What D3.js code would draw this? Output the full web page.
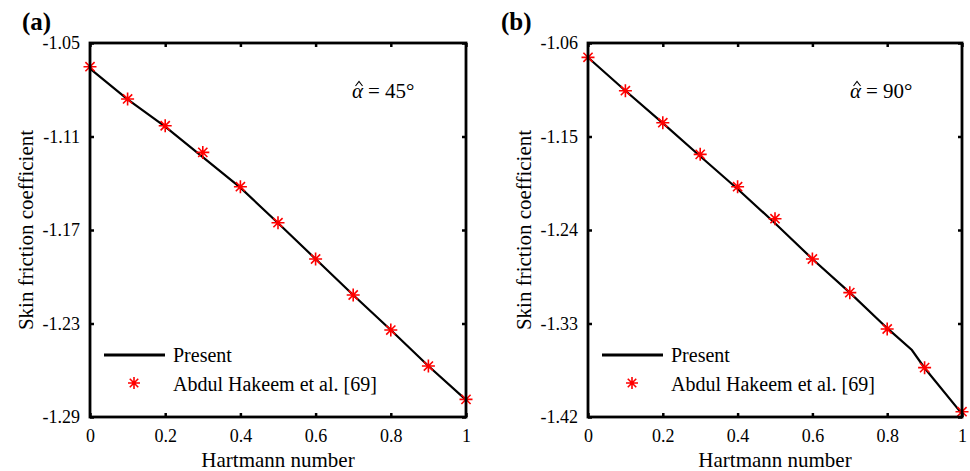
<!DOCTYPE html>
<html>
<head>
<meta charset="utf-8">
<script src="https://cdn.jsdelivr.net/npm/d3@7"></script>
<style>
  html, body { margin: 0; padding: 0; background: #fff; }
  svg text { font-family: "Liberation Serif", "DejaVu Serif", serif; }
</style>
</head>
<body>
<svg id="chart" width="970" height="471"></svg>
<script>
// Hartmann number grid shared by both panels
const hartmann = [0, 0.1, 0.2, 0.3, 0.4, 0.5, 0.6, 0.7, 0.8, 0.9, 1.0];
const xTicks = [0, 0.2, 0.4, 0.6, 0.8, 1];
const xTickLabels = ["0", "0.2", "0.4", "0.6", "0.8", "1"];

// Panel (a): alpha = 45 deg
const presentXA = [0, 0.1, 0.2, 0.3, 0.4, 0.5, 0.6, 0.7, 0.8, 0.9, 1.0];
const presentA = [-1.0665, -1.0862, -1.1036, -1.1232, -1.1428, -1.1655, -1.1886, -1.2117, -1.2342, -1.2573, -1.2790];
const hakeemA = [-1.0652, -1.0859, -1.1031, -1.1202, -1.1422, -1.1653, -1.1886, -1.2117, -1.2342, -1.2573, -1.2787];
const yTicksA = [-1.05, -1.11, -1.17, -1.23, -1.29];
const yTickLabelsA = ["-1.05", "-1.11", "-1.17", "-1.23", "-1.29"];

// Panel (b): alpha = 90 deg
const presentXB = [0, 0.1, 0.2, 0.3, 0.4, 0.5, 0.6, 0.7, 0.8, 0.866, 0.9, 1.0];
const presentB = [-1.0740, -1.1060, -1.1372, -1.1690, -1.2005, -1.2335, -1.2679, -1.3003, -1.3345, -1.3555, -1.3728, -1.4170];
const hakeemB = [-1.0738, -1.1059, -1.1367, -1.1672, -1.1983, -1.2291, -1.2679, -1.3003, -1.3353, -1.3725, -1.4149];
const yTicksB = [-1.06, -1.15, -1.24, -1.33, -1.42];
const yTickLabelsB = ["-1.06", "-1.15", "-1.24", "-1.33", "-1.42"];

const FONT = "'Liberation Serif', 'DejaVu Serif', serif";
const svg = d3.select("#chart").attr("font-family", FONT);

// Asterisk marker (plus + cross)
function asterisk(g, cx, cy, r) {
  const d = r * Math.SQRT1_2;
  const p = `M${cx - r},${cy}L${cx + r},${cy}M${cx},${cy - r}L${cx},${cy + r}` +
            `M${cx - d},${cy - d}L${cx + d},${cy + d}M${cx - d},${cy + d}L${cx + d},${cy - d}`;
  g.append("path").attr("d", p).attr("stroke", "#ff0000").attr("stroke-width", 1.6).attr("fill", "none");
}

function label(g, x, y, size, str) {
  return g.append("text").attr("x", x).attr("y", y).attr("font-size", size)
    .attr("font-family", FONT).attr("fill", "#000").text(str);
}

function panel(opt) {
  const x = d3.scaleLinear().domain([0, 1]).range([opt.left, opt.right]);
  const y = d3.scaleLinear().domain([opt.yTicks[opt.yTicks.length - 1], opt.yTicks[0]]).range([opt.bottom, opt.top]);
  const g = svg.append("g");

  // Panel tag
  label(g, opt.tagX, 30, 25, opt.tag).attr("font-weight", "bold");

  // Curve of the present results
  const line = d3.line().x((d, i) => x(opt.px[i])).y(d => y(d));
  g.append("path").datum(opt.present).attr("d", line)
    .attr("fill", "none").attr("stroke", "#000").attr("stroke-width", 2.2);

  // Reference values as asterisks
  opt.hakeem.forEach((v, i) => asterisk(g, x(hartmann[i]), y(v), 6.5));

  // Axes with inward ticks on every side
  const tl = 4;
  const axB = d3.axisBottom(x).tickValues(xTicks).tickSize(-tl).tickPadding(12).tickFormat((d, i) => xTickLabels[i]);
  const axT = d3.axisTop(x).tickValues(xTicks).tickSize(-tl).tickFormat("");
  const axL = d3.axisLeft(y).tickValues(opt.yTicks).tickSize(-tl).tickPadding(10).tickFormat((d, i) => opt.yLabels[i]);
  const axR = d3.axisRight(y).tickValues(opt.yTicks).tickSize(-tl).tickFormat("");
  const axes = [
    [axB, `translate(0,${opt.bottom})`],
    [axT, `translate(0,${opt.top})`],
    [axL, `translate(${opt.left},0)`],
    [axR, `translate(${opt.right},0)`]
  ];
  axes.forEach(([ax, tr]) => {
    const a = g.append("g").attr("transform", tr).call(ax).attr("font-family", FONT).attr("font-size", 18);
    a.select(".domain").remove();
    a.selectAll(".tick line").attr("stroke", "#000").attr("stroke-width", 2.5);
    a.selectAll(".tick text").attr("font-size", 18).attr("fill", "#000").attr("font-family", FONT);
  });

  // Frame
  g.append("rect").attr("x", opt.left).attr("y", opt.top)
    .attr("width", opt.right - opt.left).attr("height", opt.bottom - opt.top)
    .attr("fill", "none").attr("stroke", "#000").attr("stroke-width", 2.8);

  // Axis titles
  label(g, (opt.left + opt.right) / 2, 467, 21, "Hartmann number").attr("text-anchor", "middle");
  label(g, 0, 0, 21, "Skin friction coefficient").attr("text-anchor", "middle")
    .attr("transform", `translate(${opt.left - 57},${(opt.top + opt.bottom) / 2}) rotate(-90)`);

  // Angle annotation: alpha-hat = value
  const ax0 = opt.annX;
  const alpha = label(g, ax0, 98, 21, "α").attr("font-style", "italic");
  const aw = alpha.node().getComputedTextLength();
  const hc = ax0 + aw / 2 + 1.5;
  g.append("path").attr("d", `M${hc - 3.5},${86}L${hc},${81.5}L${hc + 3.5},${86}`)
    .attr("fill", "none").attr("stroke", "#000").attr("stroke-width", 1.1);
  label(g, ax0 + aw + 5, 98, 21, "= " + opt.ann);

  // Legend
  const lx = opt.left + 14;
  g.append("line").attr("x1", lx).attr("x2", lx + 61).attr("y1", opt.bottom - 62).attr("y2", opt.bottom - 62)
    .attr("stroke", "#000").attr("stroke-width", 3.2);
  label(g, lx + 69, opt.bottom - 55, 20, "Present");
  asterisk(g, lx + 30, opt.bottom - 34, 6);
  label(g, lx + 69, opt.bottom - 26, 20, "Abdul Hakeem et al. [69]");
}

panel({
  tag: "(a)", tagX: 22, left: 90, right: 466, top: 43, bottom: 417,
  px: presentXA, present: presentA, hakeem: hakeemA,
  yTicks: yTicksA, yLabels: yTickLabelsA, annX: 352, ann: "45°"
});
panel({
  tag: "(b)", tagX: 501, left: 588, right: 962, top: 43, bottom: 417,
  px: presentXB, present: presentB, hakeem: hakeemB,
  yTicks: yTicksB, yLabels: yTickLabelsB, annX: 850, ann: "90°"
});
</script>
</body>
</html>
